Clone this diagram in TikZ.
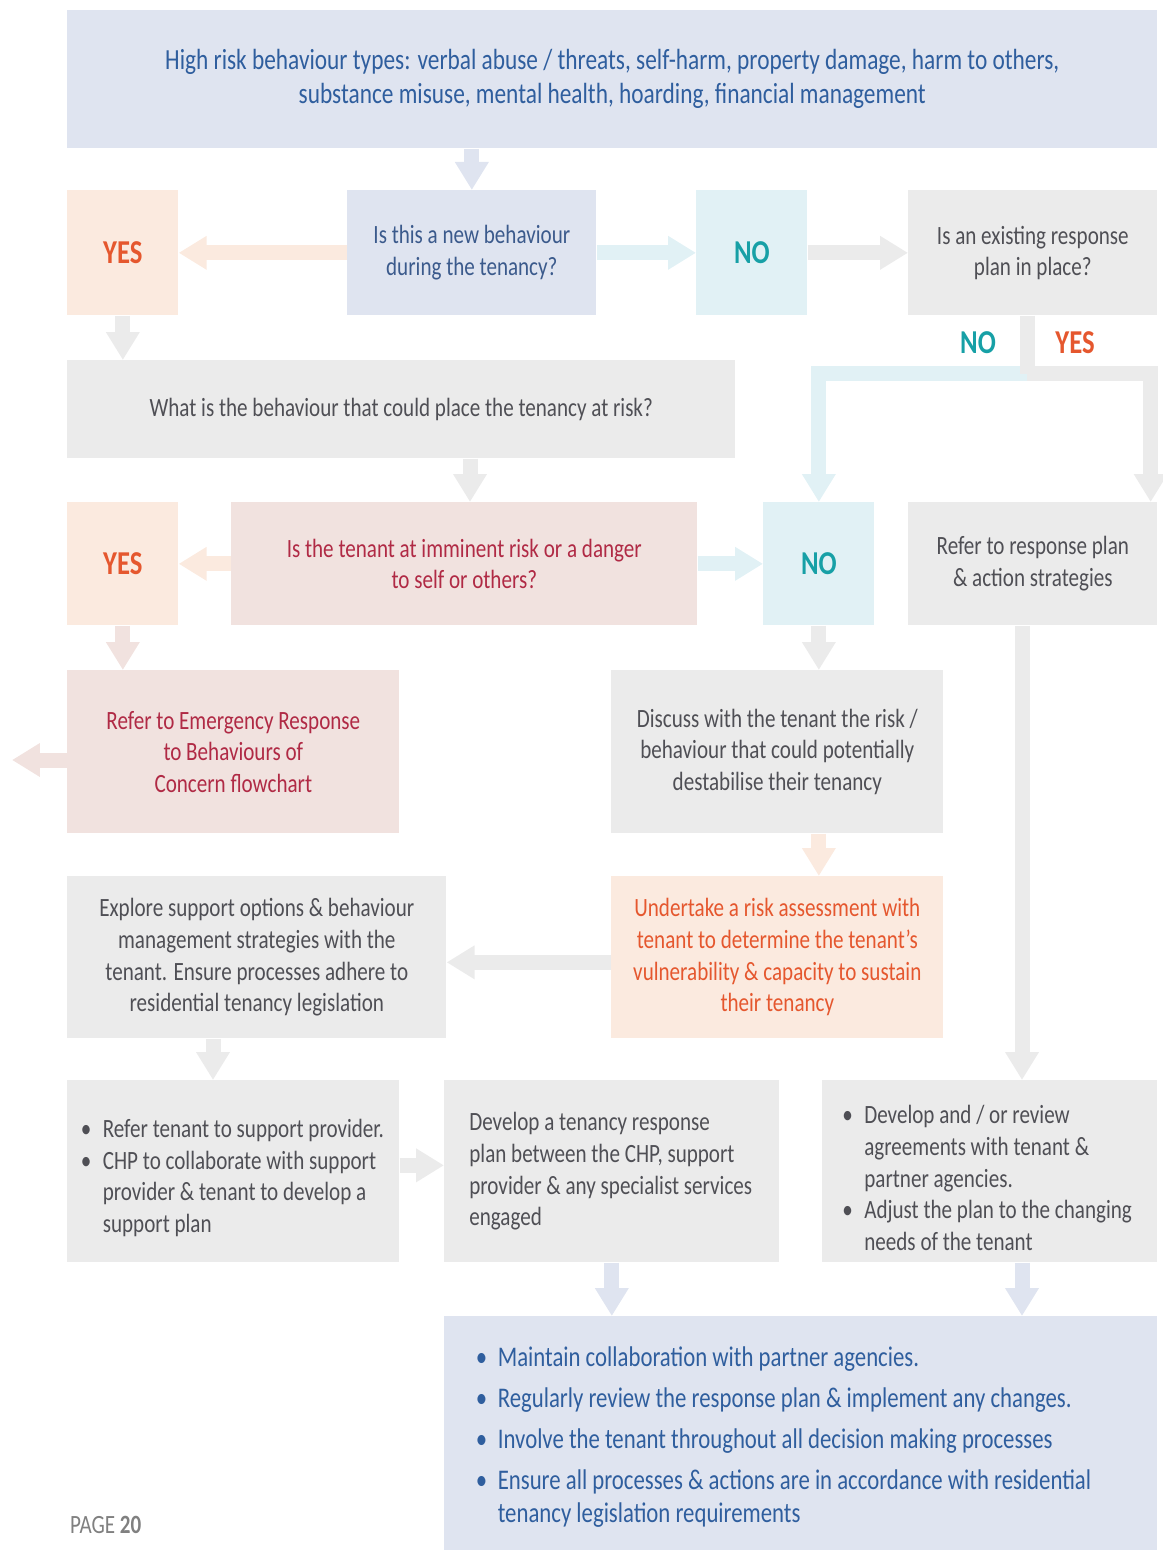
\documentclass[tikz,border=0pt]{standalone}
\usepackage{fontspec}
\setmainfont{Carlito}[FakeStretch=0.8]
\usetikzlibrary{arrows.meta}

\definecolor{boxgrey}{HTML}{EBEBEB}
\definecolor{boxblue}{HTML}{DFE4F0}
\definecolor{boxpeach}{HTML}{FBEADF}
\definecolor{boxpink}{HTML}{F1E2DF}
\definecolor{boxcyan}{HTML}{E1F1F5}
\definecolor{txtgrey}{HTML}{4F4F55}
\definecolor{txtblue}{HTML}{2F5E9E}
\definecolor{txtslate}{HTML}{3B5A8C}
\definecolor{txtred}{HTML}{B02A45}
\definecolor{txtorange}{HTML}{E5572E}
\definecolor{txtteal}{HTML}{17A0A6}

% bullet line with hanging indent
\newlength{\bulind}
\setlength{\bulind}{0.44cm}
\newcommand{\bpt}{\par\noindent\hangindent=\bulind\hangafter=1\makebox[\bulind][l]{\textbullet}}

\begin{document}
\begin{tikzpicture}[x=0.02cm, y=-0.02cm,
    box/.style={fill=#1, inner sep=0pt, anchor=north west, align=center,
        font=\fontsize{15}{18}\selectfont},
    yesno/.style={fill=#1, inner sep=0pt, anchor=north west,
        minimum width=2.22cm, font=\fontsize{19}{22}\selectfont\bfseries},
    flow/.style={draw=#1, line width=0.3cm, -{Triangle[width=0.64cm, length=0.56cm]}},
    bar/.style={draw=#1, line width=0.3cm},
]

    \useasboundingbox (0,0) rectangle (1162,1550);

    % row 1
    \node[box=boxblue, minimum width=21.8cm, minimum height=2.76cm, text=txtblue,
        font=\fontsize{16.6}{19.3}\selectfont] (top) at (67,10)
        {High risk behaviour types: verbal abuse / threats, self-harm, property damage, harm to others,\\
         substance misuse, mental health, hoarding, financial management};

    \node[yesno=boxpeach, minimum height=2.5cm, text=txtorange] (yes1) at (67,190) {YES};
    \node[box=boxblue, minimum width=4.98cm, minimum height=2.5cm, text=txtslate] (q1) at (347,190)
        {Is this a new behaviour\\during the tenancy?};
    \node[yesno=boxcyan, minimum height=2.5cm, text=txtteal] (no1) at (696,190) {NO};
    \node[box=boxgrey, minimum width=4.98cm, minimum height=2.5cm, text=txtgrey] (q2) at (908,190)
        {Is an existing response\\plan in place?};

    \node[text=txtteal, font=\fontsize{19}{22}\selectfont\bfseries] (lblno) at (978,343) {NO};
    \node[text=txtorange, font=\fontsize{19}{22}\selectfont\bfseries] (lblyes) at (1075,343) {YES};

    % row 2
    \node[box=boxgrey, minimum width=13.36cm, minimum height=1.96cm, text=txtgrey] (what) at (67,360)
        {What is the behaviour that could place the tenancy at risk?};

    % row 3
    \node[yesno=boxpeach, minimum height=2.46cm, text=txtorange] (yes2) at (67,502) {YES};
    \node[box=boxpink, minimum width=9.32cm, minimum height=2.46cm, text=txtred] (q3) at (231,502)
        {Is the tenant at imminent risk or a danger\\to self or others?};
    \node[yesno=boxcyan, minimum height=2.46cm, text=txtteal] (no2) at (763,502) {NO};
    \node[box=boxgrey, minimum width=4.98cm, minimum height=2.46cm, text=txtgrey] (refer2) at (908,502)
        {Refer to response plan\\\& action strategies};

    % row 4
    \node[box=boxpink, minimum width=6.64cm, minimum height=3.26cm, text=txtred] (emerg) at (67,670)
        {Refer to Emergency Response\\to Behaviours of\\Concern flowchart};
    \node[box=boxgrey, minimum width=6.64cm, minimum height=3.26cm, text=txtgrey] (discuss) at (611,670)
        {Discuss with the tenant the risk /\\behaviour that could potentially\\destabilise their tenancy};

    % row 5
    \node[box=boxgrey, minimum width=7.58cm, minimum height=3.24cm, text=txtgrey] (explore) at (67,876)
        {Explore support options \& behaviour\\management strategies with the\\tenant. Ensure processes adhere to\\residential tenancy legislation};
    \node[box=boxpeach, minimum width=6.64cm, minimum height=3.24cm, text=txtorange] (undertake) at (611,876)
        {Undertake a risk assessment with\\tenant to determine the tenant’s\\vulnerability \& capacity to sustain\\their tenancy};

    % row 6
    \node[box=boxgrey, minimum width=6.64cm, minimum height=3.64cm, text=txtgrey,
        text width=6.1cm, align=flush left] (refersp) at (67,1080)
        {\bpt Refer tenant to support provider.
         \bpt CHP to collaborate with support\newline provider \& tenant to develop a\newline support plan\par};
    \node[box=boxgrey, minimum width=6.7cm, minimum height=3.64cm, text=txtgrey,
        text width=5.7cm, align=flush left] (develop) at (444,1080)
        {Develop a tenancy response\newline plan between the CHP, support\newline provider \& any specialist services\newline engaged};
    \node[box=boxgrey, minimum width=6.7cm, minimum height=3.64cm, text=txtgrey,
        text width=5.9cm, align=flush left] (devrev) at (822,1080)
        {\bpt Develop and / or review\newline agreements with tenant \&\newline partner agencies.
         \bpt Adjust the plan to the changing\newline needs of the tenant\par};

    % row 7
    \node[box=boxblue, minimum width=14.26cm, minimum height=4.68cm, text=txtblue,
        text width=13.0cm, align=flush left, font=\fontsize{16.2}{18.7}\selectfont] (final) at (444,1316)
        {\setlength{\parskip}{4.6pt}%
         \bpt Maintain collaboration with partner agencies.
         \bpt Regularly review the response plan \& implement any changes.
         \bpt Involve the tenant throughout all decision making processes
         \bpt Ensure all processes \& actions are in accordance with residential\newline tenancy legislation requirements\par
         \vspace{0.28cm}};

    \node[anchor=west, text=gray, font=\fontsize{15}{18}\selectfont] (page) at (64,1525) {PAGE \textbf{20}};

    % helper points
    \coordinate (fork) at (1027,374);
    \coordinate (rcol) at (1022,0);
    \coordinate (mcol) at (470,0);
    \coordinate (lcol) at (213,0);
    \coordinate (exit) at (12,760);

    % connectors
    \draw[flow=boxblue] (top.south -| q1.north) -- (q1.north);
    \draw[flow=boxpeach] (q1.west) -- (yes1.east);
    \draw[flow=boxcyan] (q1.east) -- (no1.west);
    \draw[flow=boxgrey] (no1.east) -- (q2.west);
    \draw[flow=boxgrey] (yes1.south) -- (yes1.south |- what.north);

    \draw[flow=boxcyan] (fork) -| (no2.north);
    \draw[flow=boxgrey] (fork) -| ([xshift=-0.14cm]refer2.north east);
    \draw[bar=boxgrey] (q2.south -| fork) -- (fork);

    \draw[flow=boxgrey] (what.south -| mcol) -- (q3.north -| mcol);
    \draw[flow=boxpeach] (q3.west) -- (yes2.east);
    \draw[flow=boxcyan] (q3.east) -- (no2.west);
    \draw[flow=boxpink] (yes2.south) -- (yes2.south |- emerg.north);
    \draw[flow=boxpink] (emerg.west |- exit) -- (exit);
    \draw[flow=boxgrey] (no2.south) -- (no2.south |- discuss.north);
    \draw[flow=boxpeach] (discuss.south -| no2.south) -- (undertake.north -| no2.south);
    \draw[flow=boxgrey] ([yshift=-0.1cm]undertake.west) -- ([yshift=-0.1cm]explore.east);
    \draw[flow=boxgrey] (explore.south -| lcol) -- (refersp.north -| lcol);
    \draw[flow=boxgrey] ([yshift=0.12cm]refersp.east) -- ([yshift=0.12cm]develop.west);
    \draw[flow=boxgrey] (refer2.south -| rcol) -- (devrev.north -| rcol);
    \draw[flow=boxblue] (develop.south) -- (develop.south |- final.north);
    \draw[flow=boxblue] (devrev.south -| rcol) -- (final.north -| rcol);

\end{tikzpicture}
\end{document}
